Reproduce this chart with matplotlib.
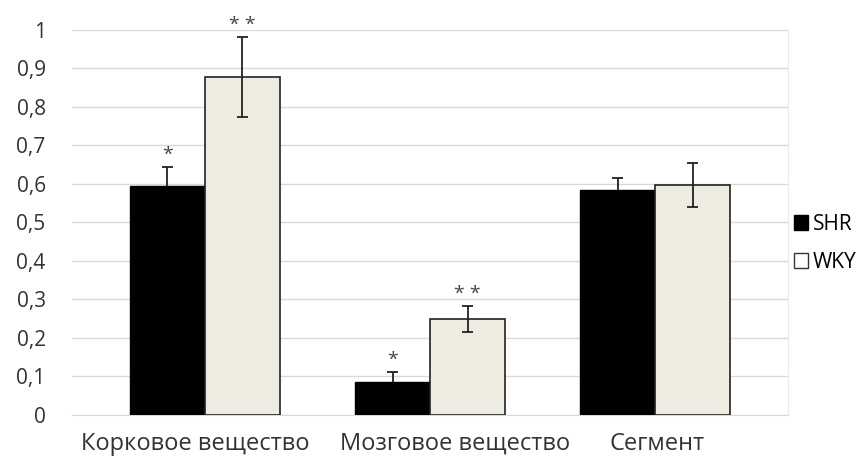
import numpy as np
import matplotlib.pyplot as plt
import matplotlib.transforms as mtransforms
from matplotlib.patches import Patch

plt.rcParams['font.family'] = ['Open Sans', 'DejaVu Sans']

categories = ['Корковое вещество', 'Мозговое вещество', 'Сегмент']
shr = [0.595, 0.086, 0.583]
shr_err = [0.05, 0.026, 0.031]
wky = [0.877, 0.249, 0.597]
wky_err = [0.104, 0.033, 0.058]
shr_marks = ['*', '*', '']
wky_marks = ['* *', '* *', '']
yticks = [0, 0.1, 0.2, 0.3, 0.4, 0.5, 0.6, 0.7, 0.8, 0.9, 1]
ytick_labels = ['0', '0,1', '0,2', '0,3', '0,4', '0,5', '0,6', '0,7', '0,8', '0,9', '1']

fig = plt.figure(figsize=(8.68, 4.59), dpi=100)
ax = fig.add_axes([0.083, 0.096, 0.825, 0.839])

x = np.arange(len(categories))
w = 0.333
ax.bar(x - w/2, shr, w, color='black', edgecolor='black', linewidth=1, zorder=3)
ax.bar(x + w/2, wky, w, color='#EEECE1', edgecolor='#222222', linewidth=1.2, zorder=3)

# error bars: SHR only upward (lower half hidden in the black bar), WKY both ways
cap = 0.025
shr_x = x - w/2
wky_x = x + w/2
shr_top = np.array(shr) + np.array(shr_err)
wky_top = np.array(wky) + np.array(wky_err)
wky_bot = np.array(wky) - np.array(wky_err)
ax.vlines(shr_x, shr, shr_top, color='#222222', lw=1.3, zorder=4)
ax.hlines(shr_top, shr_x - cap, shr_x + cap, color='#222222', lw=1.3, zorder=4)
ax.vlines(wky_x, wky_bot, wky_top, color='#222222', lw=1.3, zorder=4)
ax.hlines(wky_top, wky_x - cap, wky_x + cap, color='#222222', lw=1.3, zorder=4)
ax.hlines(wky_bot, wky_x - cap, wky_x + cap, color='#222222', lw=1.3, zorder=4)

for i in range(len(categories)):
    if shr_marks[i]:
        ax.text(shr_x[i], shr_top[i] + 0.008, shr_marks[i], ha='center', va='bottom',
                fontsize=14, color='#444444')
    if wky_marks[i]:
        ax.text(wky_x[i], wky_top[i] + 0.008, wky_marks[i], ha='center', va='bottom',
                fontsize=14, color='#444444')

ax.set_xlim(-0.59, 2.59)
ax.set_ylim(0, 1)
ax.set_yticks(yticks)
ax.set_yticklabels(ytick_labels, fontsize=15, color='#333333')
ax.set_xticks(x)
ax.set_xticklabels(categories, fontsize=17, color='#333333')
ax.tick_params(length=0)
ax.tick_params(axis='y', pad=19)
ax.tick_params(axis='x', pad=12)
ax.yaxis.grid(True, color='#d9d9d9', linewidth=1, zorder=0)
for s in ['top', 'left']:
    ax.spines[s].set_visible(False)
ax.spines['bottom'].set_color('#d9d9d9')
ax.spines['right'].set_color('#ececec')

# category labels sit a bit off the group centres in the original
label_shift = [-7, 18, 1]
for lab, dx in zip(ax.get_xticklabels(), label_shift):
    lab.set_transform(lab.get_transform() + mtransforms.ScaledTranslation(dx / 72, 0, fig.dpi_scale_trans))

handles = [Patch(facecolor='black', edgecolor='black', label='SHR'),
           Patch(facecolor='white', edgecolor='#333333', label='WKY')]
fig.legend(handles=handles, loc='center left', bbox_to_anchor=(0.905, 0.47), frameon=False,
           fontsize=15, handlelength=0.7, handleheight=0.7, handletextpad=0.2, labelspacing=0.8,
           borderaxespad=0)

fig.savefig('out.png', dpi=100)
